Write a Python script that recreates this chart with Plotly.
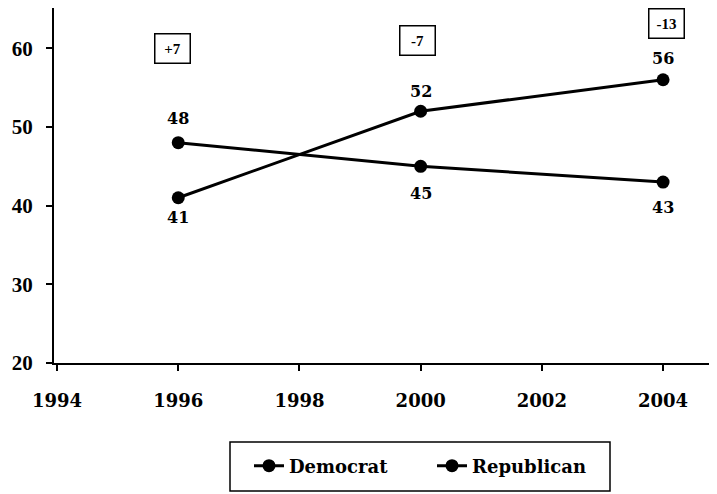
import plotly.graph_objects as go

years = [1996, 2000, 2004]
democrat = [41, 52, 56]
republican = [48, 45, 43]
gap_labels = ["+7", "-7", "-13"]
x_ticks = [1994, 1996, 1998, 2000, 2002, 2004]
y_ticks = [20, 30, 40, 50, 60]

# label placement (pixels): positive = above marker
dem_shift = [-20, 20, 21]
rep_shift = [24, -27, -25]
gap_pos = [(1995.9, 60.0), (1999.95, 61.0), (2004.05, 63.1)]

SERIF = "Liberation Serif"
WIDE = "DejaVu Serif"

fig = go.Figure()
for name, vals in (("Democrat", democrat), ("Republican", republican)):
    fig.add_trace(go.Scatter(
        x=years, y=vals, name=name, mode="lines+markers",
        line=dict(color="black", width=3), marker=dict(color="black", size=13),
    ))

for vals, shifts in ((democrat, dem_shift), (republican, rep_shift)):
    for x, v, s in zip(years, vals, shifts):
        fig.add_annotation(x=x, y=v, text=str(v), showarrow=False, yshift=s,
                           font=dict(family=WIDE, size=16, color="black", weight="bold"))

for (gx, gy), gl in zip(gap_pos, gap_labels):
    fig.add_annotation(x=gx, y=gy, text=gl, showarrow=False,
                       font=dict(family=SERIF, size=15, color="black", weight="bold"),
                       width=26, height=20, align="center", valign="middle",
                       bordercolor="black", borderwidth=1.5, borderpad=4,
                       bgcolor="white")

# legend frame
fig.add_shape(type="rect", xref="paper", yref="paper",
              x0=(230 - 54) / 663, x1=(610 - 54) / 663,
              y0=(363 - 491) / 355, y1=(363 - 442) / 355,
              line=dict(color="black", width=1.5))

fig.update_layout(
    width=717, height=494,
    margin=dict(l=46, r=8, t=0, b=139, autoexpand=False),
    paper_bgcolor="white", plot_bgcolor="white",
    font=dict(family=SERIF, color="black"),
    showlegend=True,
    legend=dict(orientation="h", x=(432 - 54) / 663, xanchor="center",
                y=(363 - 466) / 355, yanchor="middle",
                borderwidth=0, bgcolor="rgba(0,0,0,0)",
                font=dict(family=WIDE, size=18, color="black", weight="bold"),
                entrywidth=138, entrywidthmode="pixels"),
)
fig.update_xaxes(range=[1993.95, 2004.89], tickvals=x_ticks,
                 ticktext=[str(v) for v in x_ticks],
                 showgrid=False, zeroline=False, showline=True, linecolor="black",
                 linewidth=2, mirror=True, ticks="outside", ticklen=6, tickwidth=2,
                 tickcolor="black", ticklabelstandoff=14, automargin=False,
                 tickfont=dict(family=WIDE, size=18, color="black", weight="bold"))
fig.update_yaxes(range=[20, 65.12], tickvals=y_ticks,
                 showgrid=False, zeroline=False, showline=True, linecolor="black",
                 linewidth=2, ticks="outside", ticklen=6, tickwidth=2,
                 tickcolor="black", ticklabelstandoff=9, automargin=False,
                 tickfont=dict(family=SERIF, size=21, color="black", weight="bold"))

fig.write_html("out.html")
